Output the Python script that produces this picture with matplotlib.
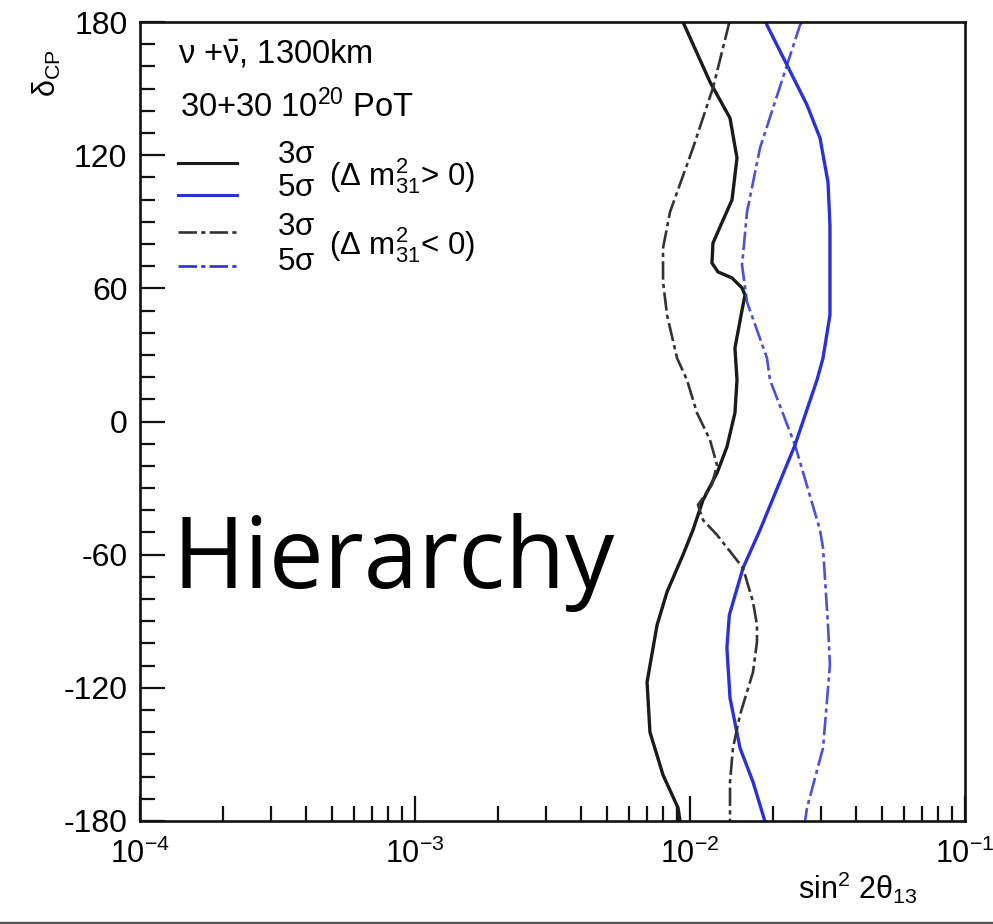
import numpy as np
import matplotlib
matplotlib.use("Agg")
import matplotlib.pyplot as plt
from matplotlib.ticker import FixedLocator, FixedFormatter, LogLocator, MultipleLocator, NullFormatter
from matplotlib.lines import Line2D

plt.rcParams['font.family'] = ['Liberation Sans', 'DejaVu Sans']
plt.rcParams['mathtext.fontset'] = 'custom'
plt.rcParams['mathtext.rm'] = 'Liberation Sans'
plt.rcParams['mathtext.it'] = 'Liberation Sans:italic'
plt.rcParams['mathtext.bf'] = 'Liberation Sans:bold'

# ---- data: delta_CP (deg) and sin^2 2theta13 along each contour ----
nh3_delta = [180, 153.0, 136.7, 118.7, 103.4, 99.8, 87.6, 80.4, 71.4, 67.4, 64.7, 60.2, 57.0, 50.2,
             33.1, 18.7, 3.9, -11.5, -23.2, -35.4, -48.9, -60.1, -76.8, -91.7, -117.4, -139.9,
             -159.3, -174.1, -180]
nh3_s22 = [0.00943, 0.01182, 0.01398, 0.01482, 0.01433, 0.01421, 0.01285, 0.01212, 0.01202, 0.01264,
           0.01421, 0.01546, 0.01585, 0.01546, 0.01457, 0.01482, 0.01457, 0.01362, 0.01254, 0.01115,
           0.01025, 0.00943, 0.00825, 0.00759, 0.00698, 0.00715, 0.00798, 0.00905, 0.00920]

nh5_delta = [180, 178.6, 160.6, 142.6, 127.7, 107.9, 88.5, 62.9, 48.0, 28.6, 18.7, -10.6, -48.9,
             -66.0, -87.2, -102.0, -124.6, -147.1, -162.4, -177.3, -180]
nh5_s22 = [0.0189, 0.01905, 0.02253, 0.02664, 0.0297, 0.03175, 0.03228, 0.03228, 0.03228, 0.03046,
           0.02896, 0.02409, 0.01797, 0.01559, 0.0139, 0.01362, 0.01398, 0.0152, 0.01695, 0.01843, 0.0187]

ih3_delta = [180, 177.3, 150.3, 123.2, 94.4, 78.2, 62.9, 48.0, 28.6, 18.7, 3.9, -8.3, -19.6, -28.6,
             -37.6, -44.4, -51.1, -66.0, -81.3, -91.7, -99.3, -112.9, -132.2, -147.1, -162.4, -180]
ih3_s22 = [0.0139, 0.01374, 0.01212, 0.01025, 0.00846, 0.00798, 0.00798, 0.00825, 0.00897, 0.00975,
           0.0106, 0.01182, 0.01254, 0.0120, 0.01069, 0.01115, 0.01254, 0.01559, 0.01695, 0.01752,
           0.01752, 0.01695, 0.0152, 0.01433, 0.01398, 0.01398]

ih5_delta = [180, 178.6, 160.6, 123.2, 94.4, 70.5, 53.8, 28.6, 18.7, -10.6, -48.9, -57.0, -91.7,
             -109.7, -147.1, -174.1, -180]
ih5_s22 = [0.02554, 0.02512, 0.02253, 0.01797, 0.01612, 0.01546, 0.01612, 0.01905, 0.01954, 0.02409,
           0.0297, 0.03046, 0.03175, 0.03228, 0.03046, 0.02664, 0.0262]

x_ticks = [1e-4, 1e-3, 1e-2, 1e-1]
x_tick_labels = [r'10$^{-4}$', r'10$^{-3}$', r'10$^{-2}$', r'10$^{-1}$']
y_ticks = [-180, -120, -60, 0, 60, 120, 180]
y_tick_labels = ['-180', '-120', '-60', '0', '60', '120', '180']

BLUE = '#2a32d6'
DASH = (0, (7, 1.6, 1.6, 1.6))

fig = plt.figure(figsize=(9.93, 9.24), dpi=100)
ax = fig.add_axes([140/993, 1-821/924, 825/993, 799/924])

ax.plot(nh3_s22, nh3_delta, color='#1a1a1a', lw=2.4, solid_joinstyle='round')
ax.plot(nh5_s22, nh5_delta, color=BLUE, lw=2.4, solid_joinstyle='round')
ax.plot(ih3_s22, ih3_delta, color='#333333', lw=1.9, linestyle=DASH)
ax.plot(ih5_s22, ih5_delta, color=BLUE, lw=1.9, linestyle=DASH, alpha=0.85)

ax.set_xscale('log')
ax.set_xlim(1e-4, 1e-1)
ax.set_ylim(-180, 180)
ax.xaxis.set_major_locator(FixedLocator(x_ticks))
ax.xaxis.set_major_formatter(FixedFormatter(x_tick_labels))
ax.xaxis.set_minor_locator(LogLocator(base=10, subs=np.arange(2, 10)))
ax.xaxis.set_minor_formatter(NullFormatter())
ax.yaxis.set_major_locator(FixedLocator(y_ticks))
ax.yaxis.set_major_formatter(FixedFormatter(y_tick_labels))
ax.yaxis.set_minor_locator(MultipleLocator(10))

ax.tick_params(which='both', direction='in', top=False, right=False, width=1.6, color='#111111')
ax.tick_params(which='major', length=18)
ax.tick_params(which='minor', length=10.5)
ax.tick_params(axis='y', which='major', pad=9, labelsize=23)
ax.tick_params(axis='x', which='major', pad=13, labelsize=22)
for s in ax.spines.values():
    s.set_linewidth(1.9)
    s.set_color('#111111')

# axis titles
fig.text(47/993, 1-73/924, r'$\mathrm{\delta}_{\mathrm{CP}}$', rotation=90, fontsize=22,
         ha='center', va='center')
fig.text(858/993, 1-888/924, r'sin$^{2}$ 2$\mathrm{\theta}_{13}$', fontsize=22, ha='center', va='center')

# header text
T = ax.transAxes
FS = 23.5
ax.text(0.046, 0.959, r'$\mathrm{\nu}$ +$\bar{\mathrm{\nu}}$, 1300km', transform=T, fontsize=FS,
        va='center', ha='left')
ax.text(0.048, 0.894, r'30+30 10$^{20}$ PoT', transform=T, fontsize=FS, va='center', ha='left')

# custom legend
leg_y = [0.8235, 0.7835, 0.7372, 0.6946]
leg_styles = [dict(color='#1a1a1a', lw=2.2), dict(color=BLUE, lw=2.2),
              dict(color='#333333', lw=1.9, linestyle=DASH), dict(color=BLUE, lw=1.9, linestyle=DASH)]
for yy, st in zip(leg_y, leg_styles):
    ax.add_line(Line2D([0.046, 0.1176], [yy, yy], transform=T, **st))
LS = 22.5
ax.text(0.166, 0.8335, r'3$\mathrm{\sigma}$', transform=T, fontsize=LS, va='center', ha='left')
ax.text(0.166, 0.7922, r'5$\mathrm{\sigma}$', transform=T, fontsize=LS, va='center', ha='left')
ax.text(0.166, 0.7434, r'3$\mathrm{\sigma}$', transform=T, fontsize=LS, va='center', ha='left')
ax.text(0.166, 0.6996, r'5$\mathrm{\sigma}$', transform=T, fontsize=LS, va='center', ha='left')
ax.text(0.229, 0.8073, r'($\Delta$ m$^{2}_{31}$> 0)', transform=T, fontsize=LS, va='center', ha='left')
ax.text(0.229, 0.7209, r'($\Delta$ m$^{2}_{31}$< 0)', transform=T, fontsize=LS, va='center', ha='left')

# big overlay word
ax.text(0.0388, 0.2916, 'Hierarchy', transform=T, fontsize=70.5, family=['Open Sans', 'DejaVu Sans'],
        va='baseline', ha='left', color='black')

# bottom slide border
fig.add_artist(Line2D([0, 1], [1.5/924, 1.5/924], transform=fig.transFigure, color='#555555', lw=2.5))

fig.savefig('out.png', dpi=100)
